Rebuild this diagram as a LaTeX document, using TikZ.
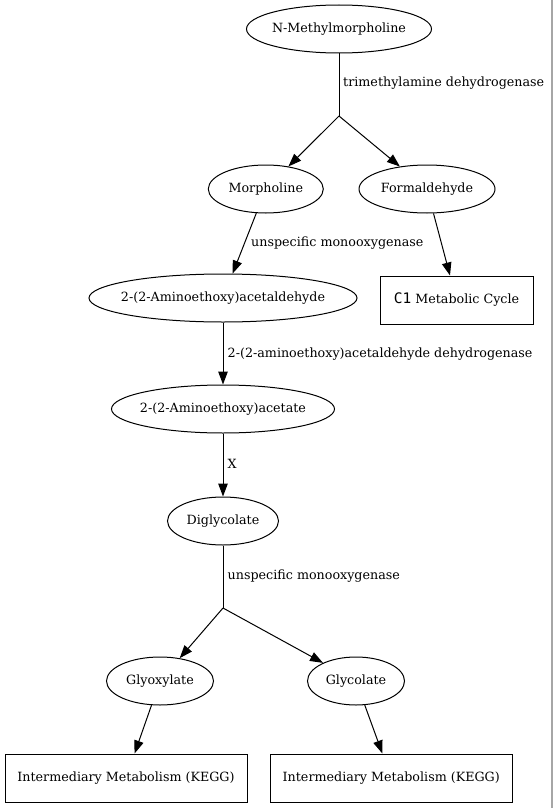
\documentclass[tikz,border=0pt]{standalone}
\usepackage{fontspec}
\setmainfont{DejaVu Serif}
\newfontfamily\cfont{DejaVu Sans Mono}
\usetikzlibrary{shapes.geometric,arrows.meta}
\newcommand{\zw}[1]{\makebox[0pt]{#1}}
\begin{document}
\begin{tikzpicture}[x=1pt,y=-1pt,
  every node/.style={font=\fontsize{12.7}{15}\selectfont},
  ell/.style={draw,ellipse,inner sep=0pt,line width=1pt,minimum height=48pt},
  boxn/.style={draw,rectangle,inner sep=0pt,line width=1pt,minimum height=48pt},
  lbl/.style={anchor=west,inner sep=0pt},
  conn/.style={line width=1pt},
  arr/.style={line width=1pt,-{Triangle[length=13pt,width=9.5pt]}}]
\useasboundingbox (0,0) rectangle (553,808);
\fill[white] (0,0) rectangle (553,808);
\draw[gray!70,line width=1.5pt] (552,0) -- (552,808);

\node[ell,minimum width=185pt] (nmm) at (339,29) {\zw{N-Methylmorpholine}};
\coordinate (j1) at (339,116);
\node[ell,minimum width=115pt] (morph) at (265.8,189) {\zw{Morpholine}};
\node[ell,minimum width=136pt] (form) at (427,189) {\zw{Formaldehyde}};
\node[ell,minimum width=268pt] (ald) at (223,298) {\zw{2-(2-Aminoethoxy)acetaldehyde}};
\node[boxn,minimum width=153pt] (c1) at (456.5,300) {{\cfont\fontsize{14.5}{15}\selectfont C1} Metabolic Cycle};
\node[ell,minimum width=223pt] (acet) at (223,409) {\zw{2-(2-Aminoethoxy)acetate}};
\node[ell,minimum width=111pt] (digly) at (223,521) {\zw{Diglycolate}};
\coordinate (j2) at (223,608);
\node[ell,minimum width=107pt] (glyox) at (160,681) {\zw{Glyoxylate}};
\node[ell,minimum width=97pt] (glyc) at (356,681) {\zw{Glycolate}};
\node[boxn,minimum width=242pt] (k1) at (126,778) {Intermediary Metabolism (KEGG)};
\node[boxn,minimum width=242pt] (k2) at (391.25,778) {Intermediary Metabolism (KEGG)};

\draw[conn] (nmm) -- (j1);
\draw[arr] (j1) -- (morph);
\draw[arr] (j1) -- (form);
\draw[arr] (morph) -- (ald);
\draw[arr] (form) -- (c1);
\draw[arr] (ald) -- (acet);
\draw[arr] (acet) -- (digly);
\draw[conn] (digly) -- (j2);
\draw[arr] (j2) -- (glyox);
\draw[arr] (j2) -- (glyc);
\draw[arr] (glyox) -- (k1);
\draw[arr] (glyc) -- (k2);

\node[lbl] (l1) at (343,83) {trimethylamine dehydrogenase};
\node[lbl] (l2) at (251,243) {unspecific monooxygenase};
\node[lbl] (l3) at (227.5,354) {2-(2-aminoethoxy)acetaldehyde dehydrogenase};
\node[lbl] (l4) at (227.5,464) {X};
\node[lbl] (l5) at (227.5,576) {unspecific monooxygenase};
\end{tikzpicture}
\end{document}
